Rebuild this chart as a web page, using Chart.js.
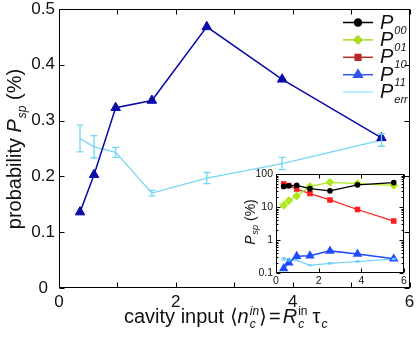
<!DOCTYPE html>
<html>
<head>
<meta charset="utf-8">
<script src="https://cdn.jsdelivr.net/npm/chart.js@4.4.0/dist/chart.umd.min.js"></script>
<style>
  body { margin: 0; background: #fff; }
  #wrap { position: relative; width: 416px; height: 346px; }
  #main { position: absolute; left: 0; top: 0; }
  #inset { position: absolute; left: 230px; top: 166px; }
</style>
</head>
<body>
<div id="wrap">
  <canvas id="main" width="416" height="346"></canvas>
  <canvas id="inset" width="186" height="128"></canvas>
</div>
<script>
// cavity input <n_c^in> for every measurement
const xs = [0.36, 0.6, 0.97, 1.59, 2.53, 3.82, 5.52];
// probabilities in %
const p11 = [0.136, 0.203, 0.323, 0.336, 0.468, 0.374, 0.269];
const pErr = [0.268, 0.253, 0.243, 0.170, 0.197, 0.223, 0.265];
const pErrBar = [0.024, 0.020, 0.009, 0.005, 0.010, 0.011, 0.011];
const p00 = [42, 44, 45, 36, 31, 47, 55];
const p01 = [11.3, 15.6, 21.5, 42, 56, 51, 45];
const p10 = [50, 45, 35, 25.5, 16.4, 8.4, 3.75];
// tick labels
const mainXLabels = [0, 2, 4, 6];
const mainYTicks = [0, 0.1, 0.2, 0.3, 0.4, 0.5];
const insetXLabels = [0, 2, 4, 6];
const insetYLabels = [0.1, 1, 10, 100];
const legendNames = ['00', '01', '10', '11', 'err'];

const FONT = "'Liberation Sans', Arial, Helvetica, sans-serif";
Chart.defaults.font.family = FONT;
Chart.defaults.color = '#111';

const pts = ys => xs.map((x, i) => ({x, y: ys[i]}));
const font = (s, it) => (it ? 'italic ' : '') + s + 'px ' + FONT;
const R = (t, s, i = false, dy = 0, dx = 0) => ({t, s, i, dy, dx});

// text made of groups; runs inside one group share the same x (sub + sup)
function drawRich(ctx, groups, x, y, align) {
  const widths = groups.map(g => Math.max(...g.map(r => {
    ctx.font = font(r.s, r.i);
    return ctx.measureText(r.t).width + r.dx;
  })));
  const total = widths.reduce((a, b) => a + b, 0);
  let cx = align === 'center' ? x - total / 2 : x;
  groups.forEach((g, k) => {
    g.forEach(r => {
      ctx.font = font(r.s, r.i);
      ctx.fillText(r.t, cx + r.dx, y + r.dy);
    });
    cx += widths[k];
  });
}

// frame around the plot with inward ticks on all four sides
const boxPlugin = {
  id: 'box',
  beforeDraw(chart, args, opts) {
    if (!opts.fill) return;
    const {ctx, chartArea: a} = chart;
    ctx.save();
    ctx.fillStyle = opts.fill;
    ctx.fillRect(a.left, a.top, a.width, a.height);
    ctx.restore();
  },
  afterDraw(chart, args, opts) {
    const {ctx, chartArea: a} = chart;
    const L = Math.round(a.left) + 0.5, T = Math.round(a.top) + 0.5;
    const Rt = Math.round(a.right) - 0.5, B = Math.round(a.bottom) - 0.5;
    ctx.save();
    ctx.strokeStyle = '#000';
    ctx.lineWidth = 1;
    ctx.strokeRect(L, T, Rt - L, B - T);
    ctx.beginPath();
    Object.values(chart.scales).forEach(s => {
      s.ticks.forEach(t => {
        let len = opts.len;
        if (s.type === 'logarithmic' && Math.abs(Math.log10(t.value) % 1) > 1e-6) len = opts.minorLen;
        const p = Math.round(s.getPixelForValue(t.value)) + 0.5;
        if (s.axis === 'x') {
          ctx.moveTo(p, B); ctx.lineTo(p, B - len);
          ctx.moveTo(p, T); ctx.lineTo(p, T + len);
        } else {
          ctx.moveTo(L, p); ctx.lineTo(L + len, p);
          ctx.moveTo(Rt, p); ctx.lineTo(Rt - len, p);
        }
      });
    });
    ctx.stroke();
    ctx.restore();
  }
};

const errBars = {
  id: 'errBars',
  afterDatasetsDraw(chart, args, opts) {
    const {ctx} = chart;
    const yS = chart.scales.y;
    chart.data.datasets.forEach((ds, i) => {
      if (!ds.errors) return;
      ctx.save();
      ctx.strokeStyle = ds.borderColor;
      ctx.lineWidth = opts.width;
      ctx.beginPath();
      chart.getDatasetMeta(i).data.forEach((pt, j) => {
        const y1 = yS.getPixelForValue(ds.data[j].y + ds.errors[j]);
        const y2 = yS.getPixelForValue(ds.data[j].y - ds.errors[j]);
        ctx.moveTo(pt.x, y1); ctx.lineTo(pt.x, y2);
        ctx.moveTo(pt.x - opts.cap, y1); ctx.lineTo(pt.x + opts.cap, y1);
        ctx.moveTo(pt.x - opts.cap, y2); ctx.lineTo(pt.x + opts.cap, y2);
      });
      ctx.stroke();
      ctx.restore();
    });
  }
};

const mainText = {
  id: 'mainText',
  afterDraw(chart) {
    const {ctx} = chart;
    ctx.save();
    ctx.fillStyle = '#111';
    ctx.textBaseline = 'alphabetic';
    // y title
    ctx.save();
    ctx.translate(21, 149);
    ctx.rotate(-Math.PI / 2);
    drawRich(ctx, [[R('probability ', 20)], [R('P', 20, true)], [R('sp', 12, true, 5, 1)], [R(' (%)', 20)]], 0, 0, 'center');
    ctx.restore();
    // x title
    drawRich(ctx, [
      [R('cavity input ', 20)], [R('\u27E8', 20)], [R('n', 20, true)],
      [R('c', 12, true, 5, 1), R('in', 12, true, -8, 1)], [R('\u27E9', 20)],
      [R('=', 20, false, 0, 2)], [R('R', 20, true, 0, 2)],
      [R('c', 12, true, 5, 1), R('in', 12, false, -8, 1)],
      [R('\u03C4', 20, false, 0, 5)], [R('c', 12, true, 5, 1)]
    ], 124, 323);
    // legend
    const entries = [
      {color: '#000', style: 'circle', r: 3.5},
      {color: '#a6dc1e', style: 'rectRot', r: 4},
      {color: '#b22a2a', style: 'rect', r: 4},
      {color: '#2f55e8', style: 'triangle', r: 5},
      {color: '#a8eaff', style: false, r: 0}
    ];
    entries.forEach((e, k) => {
      const y = 22.5 + k * 17.4;
      ctx.strokeStyle = e.color;
      ctx.fillStyle = e.color;
      ctx.lineWidth = 1.5;
      ctx.beginPath();
      ctx.moveTo(343, y); ctx.lineTo(373, y);
      ctx.stroke();
      if (e.style) {
        Chart.helpers.drawPoint(ctx, {pointStyle: e.style, radius: e.r, rotation: 0, borderWidth: 1}, 358, y);
      }
      ctx.fillStyle = '#111';
      drawRich(ctx, [[R('P', 20, true)], [R(legendNames[k], 11, true, 5, 1)]], 380, y + 6);
    });
    ctx.restore();
  }
};

new Chart(document.getElementById('main'), {
  type: 'line',
  data: {
    datasets: [{
      data: pts(p11),
      borderColor: '#0a0aa8',
      backgroundColor: '#0a0aa8',
      borderWidth: 1.5,
      pointStyle: 'triangle',
      pointRadius: 5.5,
      pointBorderWidth: 1
    }, {
      data: pts(pErr),
      errors: pErrBar,
      borderColor: '#74d6f4',
      backgroundColor: '#74d6f4',
      borderWidth: 1.3,
      pointRadius: 0
    }]
  },
  options: {
    responsive: false,
    animation: false,
    devicePixelRatio: 1,
    events: [],
    layout: {padding: {top: 9, right: 4, left: 0, bottom: 0}},
    plugins: {
      legend: {display: false},
      tooltip: {enabled: false},
      box: {len: 5, minorLen: 5},
      errBars: {cap: 3.5, width: 1.3}
    },
    scales: {
      x: {
        type: 'linear', min: 0, max: 6,
        grid: {display: false, drawTicks: false}, border: {display: false},
        ticks: {
          stepSize: 1, autoSkip: false, maxRotation: 0, padding: 4,
          font: {size: 17},
          callback: v => mainXLabels.includes(v) ? String(v) : ''
        },
        afterFit: s => { s.height = 58; s.paddingLeft = 0; s.paddingRight = 0; }
      },
      y: {
        min: 0, max: 0.5,
        grid: {display: false, drawTicks: false}, border: {display: false},
        afterBuildTicks: s => { s.ticks = mainYTicks.map(v => ({value: v})); },
        ticks: {
          autoSkip: false, padding: 4, crossAlign: 'center',
          font: {size: 17},
          callback: v => String(v)
        },
        afterFit: s => { s.width = 59; s.paddingTop = 0; s.paddingBottom = 0; }
      }
    }
  },
  plugins: [boxPlugin, errBars, mainText]
});

const insetText = {
  id: 'insetText',
  afterDraw(chart) {
    const {ctx} = chart;
    ctx.save();
    ctx.fillStyle = '#111';
    ctx.translate(25, 56);
    ctx.rotate(-Math.PI / 2);
    drawRich(ctx, [[R('P', 14, true)], [R('sp', 9, true, 3, 1)], [R(' (%)', 14)]], 0, 0, 'center');
    ctx.restore();
  }
};

const logTicks = [];
[-1, 0, 1].forEach(e => {
  for (let m = 1; m <= 9; m++) logTicks.push(+(m * Math.pow(10, e)).toPrecision(3));
});
logTicks.push(100);

new Chart(document.getElementById('inset'), {
  type: 'line',
  data: {
    datasets: [{
      data: pts(p00), borderColor: '#000', backgroundColor: '#000',
      borderWidth: 1.3, pointStyle: 'circle', pointRadius: 2.2
    }, {
      data: pts(p01), borderColor: '#b0e81e', backgroundColor: '#b0e81e',
      borderWidth: 1.3, pointStyle: 'rectRot', pointRadius: 3.5
    }, {
      data: pts(p10), borderColor: '#ff1f1f', backgroundColor: '#ff1f1f',
      borderWidth: 1.3, pointStyle: 'rect', pointRadius: 3
    }, {
      data: pts(p11), borderColor: '#1f4cff', backgroundColor: '#1f4cff',
      borderWidth: 1.5, pointStyle: 'triangle', pointRadius: 4
    }, {
      data: pts(pErr), errors: pErrBar, borderColor: '#6cd2f8', backgroundColor: '#6cd2f8',
      borderWidth: 1.2, pointStyle: 'line', pointRadius: 2
    }]
  },
  options: {
    responsive: false,
    animation: false,
    devicePixelRatio: 1,
    events: [],
    layout: {padding: {top: 8, right: 12, left: 0, bottom: 0}},
    plugins: {
      legend: {display: false},
      tooltip: {enabled: false},
      box: {len: 4, minorLen: 2, fill: '#fff'},
      errBars: {cap: 2, width: 1}
    },
    scales: {
      x: {
        type: 'linear', min: 0, max: 6,
        grid: {display: false, drawTicks: false}, border: {display: false},
        ticks: {
          stepSize: 2, autoSkip: false, maxRotation: 0, padding: 2,
          font: {size: 10.5},
          callback: v => insetXLabels.includes(v) ? String(v) : ''
        },
        afterFit: s => { s.height = 21; s.paddingLeft = 0; s.paddingRight = 0; }
      },
      y: {
        type: 'logarithmic', min: 0.1, max: 100,
        grid: {display: false, drawTicks: false}, border: {display: false},
        afterBuildTicks: s => { s.ticks = logTicks.map(v => ({value: v})); },
        ticks: {
          autoSkip: false, padding: 3,
          font: {size: 10.5},
          callback: v => insetYLabels.includes(v) ? String(v) : ''
        },
        afterFit: s => { s.width = 46; s.paddingTop = 0; s.paddingBottom = 0; }
      }
    }
  },
  plugins: [boxPlugin, errBars, insetText]
});
</script>
</body>
</html>
